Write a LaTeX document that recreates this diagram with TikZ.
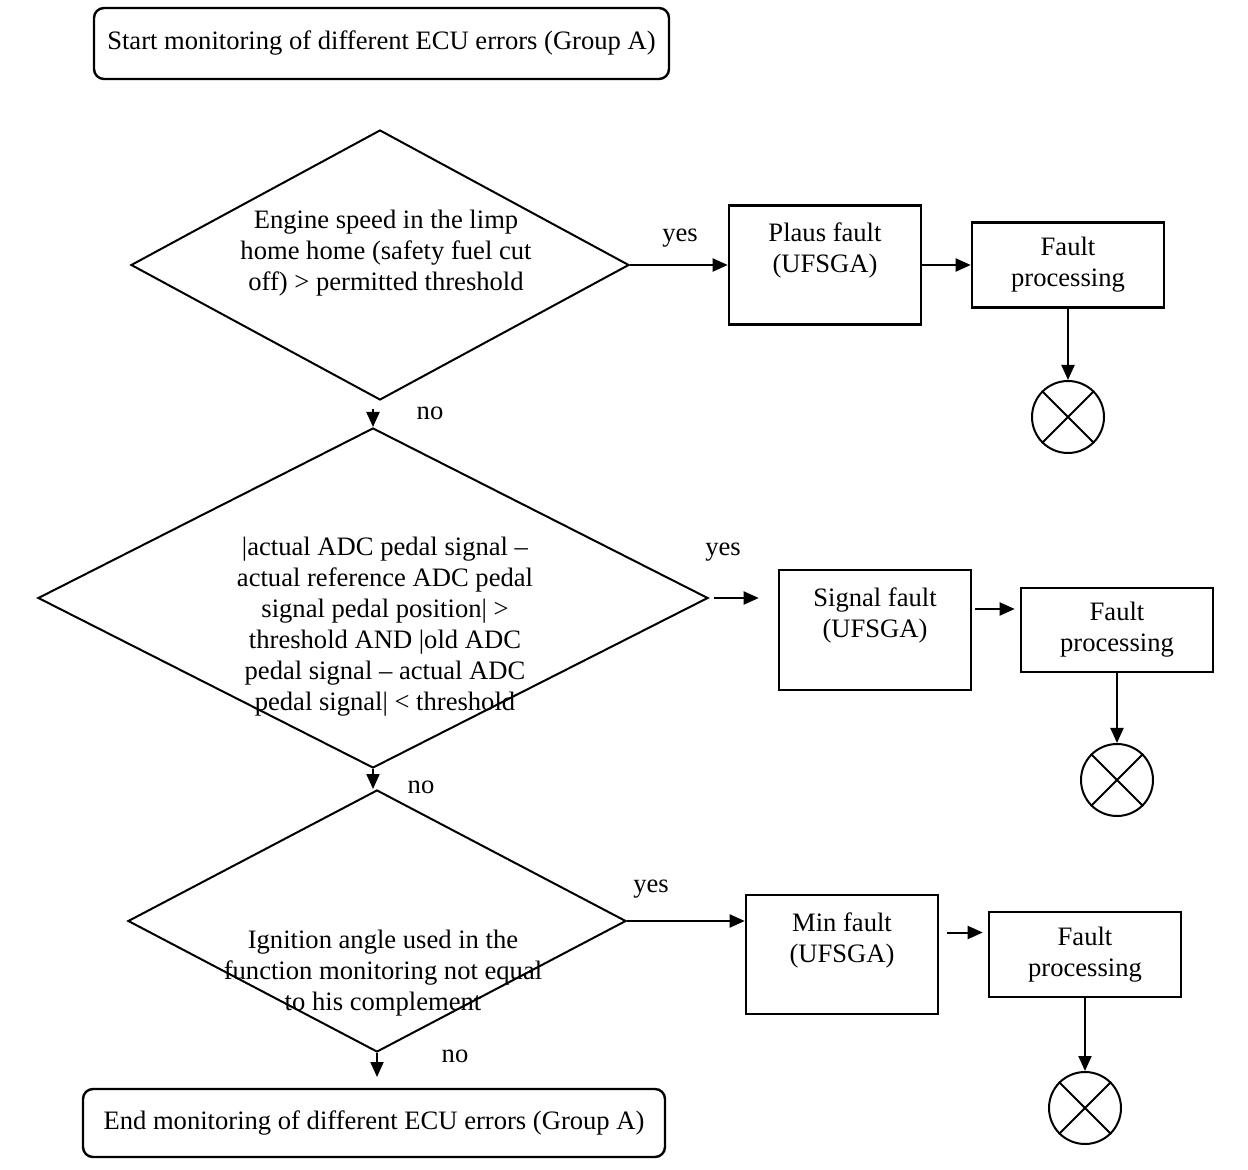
\documentclass[tikz,border=0pt]{standalone}
\usepackage{fontspec}
\setmainfont{Liberation Serif}
\usetikzlibrary{shapes.geometric, positioning, arrows.meta}

\begin{document}
\begin{tikzpicture}[x=0.5pt, y=-0.5pt,
        every node/.style={font=\fontsize{13.3}{15.5}\selectfont, align=center, inner sep=0pt},
        ecubox/.style={draw, line width=1.2pt, rounded corners=5pt},
        decision/.style={draw, diamond, line width=1pt},
        faultbox/.style={draw, rectangle, line width=1.3pt, minimum width=96pt},
        stopmark/.style={draw, circle, line width=1pt, minimum size=36pt},
        flow/.style={-{Triangle[length=7.5pt,width=6.5pt]}, line width=1pt}]
        \useasboundingbox (0,0) rectangle (1248,1170);
        % main column
        \node[ecubox, minimum width=287.5pt, minimum height=35.5pt] (start) at (381.5,43.5) {Start monitoring of different ECU errors (Group A)};
        \node[decision, minimum width=249pt, minimum height=135pt] (d1) at (380,265) {};
        \node (d1-t) at (386,253) {Engine speed in the limp\\home home (safety fuel cut\\off) > permitted threshold};
        \node[decision, minimum width=335pt, minimum height=170pt] (d2) at (373,598) {};
        \node (d2-t) at (385,627) {|actual ADC pedal signal –\\actual reference ADC pedal\\signal pedal position| >\\threshold AND |old ADC\\pedal signal – actual ADC\\pedal signal| < threshold};
        \node[decision, minimum width=249pt, minimum height=131pt] (d3) at (377,921) {};
        \node (d3-t) at (383,973) {Ignition angle used in the\\function monitoring not equal\\to his complement};
        \node[ecubox, minimum width=291pt, minimum height=34pt] (end) at (374,1123) {End monitoring of different ECU errors (Group A)};
        \coordinate (d3-out) at (377,1077);
        % fault branches
        \node[faultbox, minimum height=59.5pt] (plaus) at (825,265) {};
        \node (plaus-t) at (825,250.5) {Plaus fault\\(UFSGA)};
        \node[faultbox, minimum height=42.5pt] (proc1) at (1068,265) {Fault\\processing};
        \node[stopmark] (stop1) at (1068,417) {};
        \node[faultbox, minimum height=60pt] (signal) at (875,630) {};
        \node (signal-t) at (875,615.5) {Signal fault\\(UFSGA)};
        \node[faultbox, minimum height=42pt] (proc2) at (1117,630) {Fault\\processing};
        \node[stopmark] (stop2) at (1117,780) {};
        \node[faultbox, minimum height=59.5pt] (min) at (842,954.5) {};
        \node (min-t) at (842,940.5) {Min fault\\(UFSGA)};
        \node[faultbox, minimum height=42.5pt] (proc3) at (1085,954.5) {Fault\\processing};
        \node[stopmark] (stop3) at (1085,1108) {};
        \foreach \s in {stop1, stop2, stop3}
            \draw[line width=1pt] (\s.45) -- (\s.225) (\s.135) -- (\s.315);
        % labels
        \node (yes1) at (680,238) {yes};
        \node (yes2) at (723,552) {yes};
        \node (yes3) at (651,889) {yes};
        \node (no1) at (430,413) {no};
        \node (no2) at (421,787) {no};
        \node (no3) at (455,1056) {no};
        % connectors
        \draw[flow] (d1.east) -- (plaus.west);
        \draw[flow] (plaus.east) -- (proc1.west);
        \draw[flow] (proc1.south) -- (stop1.north);
        \draw[flow, shorten <=4pt] (d1.south -| d2.north) -- (d2.north);
        \draw[flow, shorten <=2.5pt, shorten >=9.5pt] (d2.east) -- (d2.east -| signal.west);
        \draw[flow, shorten <=1.5pt, shorten >=2.5pt] ([yshift=10.5pt]signal.east) -- ([yshift=10.5pt]signal.east -| proc2.west);
        \draw[flow] (proc2.south) -- (stop2.north);
        \draw[flow] (d2.south) -- (d2.south |- d3.north);
        \draw[flow] (d3.east) -- (d3.east -| min.west);
        \draw[flow, shorten <=4pt, shorten >=2.5pt] ([yshift=11pt]min.east) -- ([yshift=11pt]min.east -| proc3.west);
        \draw[flow] (proc3.south) -- (stop3.north);
        \draw[flow] (d3.south) -- (d3-out);
\end{tikzpicture}
\end{document}
